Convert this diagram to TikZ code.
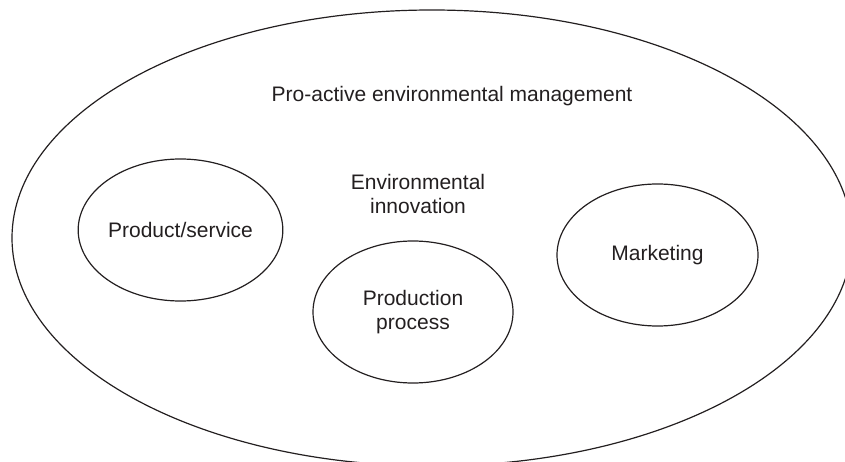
\documentclass[tikz,border=0pt]{standalone}
\usepackage{fontspec}
\setmainfont{Liberation Sans}
\usetikzlibrary{shapes.geometric}
\definecolor{ink}{RGB}{35,31,32}

\begin{document}
\begin{tikzpicture}[x=1pt,y=-1pt,
  oval/.style={ellipse, draw=ink, line width=1.2pt, inner sep=0pt, text=ink,
    align=center, font=\fontsize{21}{24}\selectfont},
  lbl/.style={text=ink, align=center, font=\fontsize{21}{24}\selectfont, inner sep=0pt}]
\useasboundingbox (0,0) rectangle (845,462);
\clip (0,0) rectangle (845,462);
% outer ring
\node[oval, minimum width=840pt, minimum height=456pt] (pam) at (432,238) {};
\node[lbl, anchor=base] (pamlbl) at (452,102) {Pro-active environmental management};
\node[lbl] (innov) at (418,194) {Environmental\\innovation};
% inner ovals
\node[oval, minimum width=199pt, minimum height=142pt] (prod) at (180.5,230) {Product/service};
\node[oval, minimum width=200pt, minimum height=142pt] (proc) at (413,312) {Production\\process};
\node[oval, minimum width=201pt, minimum height=142pt] (mark) at (657.5,255) {Marketing};
\end{tikzpicture}
\end{document}
